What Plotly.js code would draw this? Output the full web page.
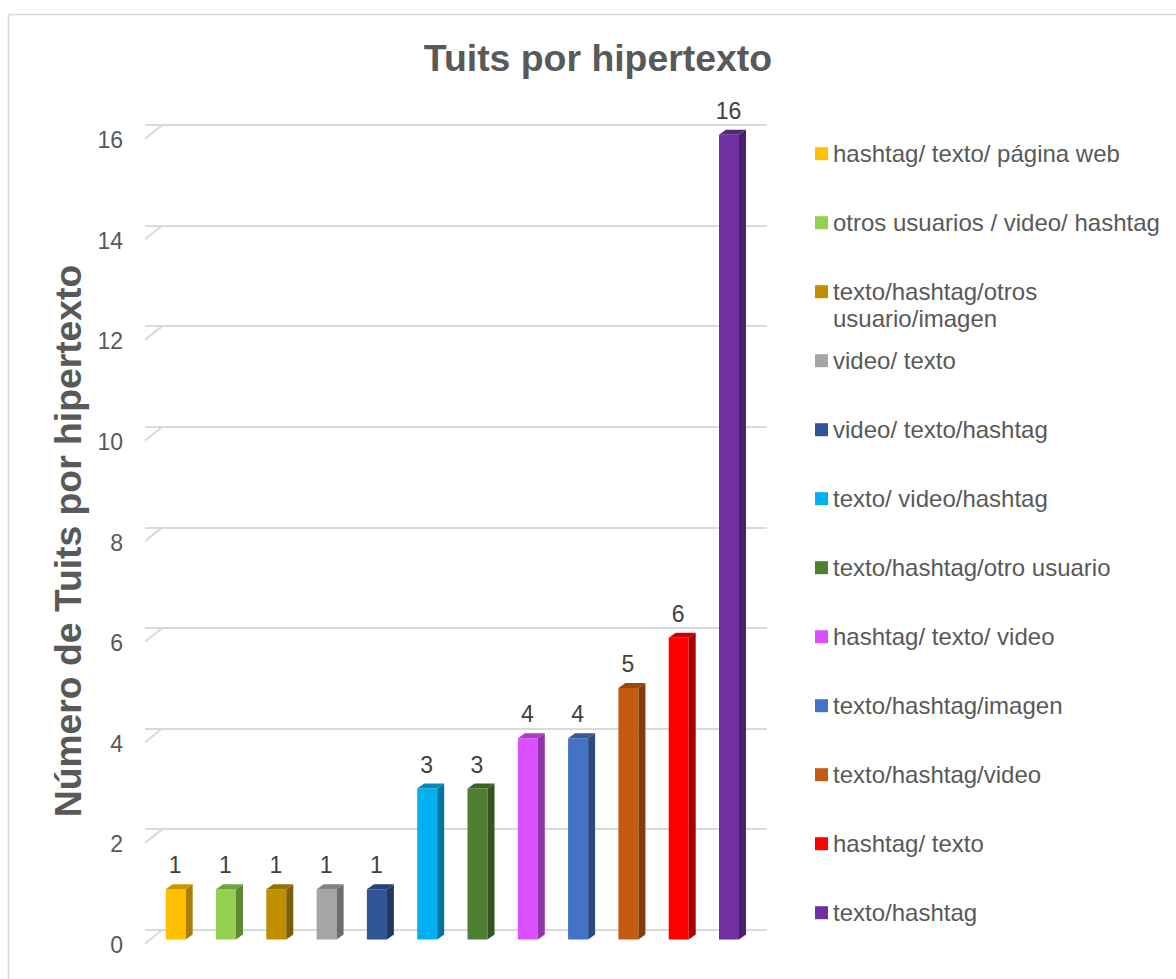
<!DOCTYPE html>
<html><head><meta charset="utf-8">
<script src="https://cdn.plot.ly/plotly-3.0.1.min.js"></script>
<style>html,body{margin:0;padding:0;background:#fff}#c{width:1176px;height:979px}</style>
</head><body><div id="c"></div>
<script>
const categories = ["hashtag/ texto/ página web","otros usuarios / video/ hashtag","texto/hashtag/otros<br>usuario/imagen","video/ texto","video/ texto/hashtag","texto/ video/hashtag","texto/hashtag/otro usuario","hashtag/ texto/ video","texto/hashtag/imagen","texto/hashtag/video","hashtag/ texto","texto/hashtag"];
const values = [1,1,1,1,1,3,3,4,4,5,6,16];
const colors = ["#FFC000","#92D050","#BF8F00","#A5A5A5","#2F5597","#00B0F0","#4F7F32","#DA4FFF","#4472C4","#C55A11","#FF0000","#7030A0"];
const tickValues = [0,2,4,6,8,10,12,14,16];

const W = 1176, H = 979;
const fx = p => p / W, fy = p => 1 - p / H;
// pixel geometry of the pseudo-3D frame
const pxUnitY = 50.3, pxUnitX = 50.3;
const plotTop = 122, plotBottom = 960, plotLeft = 145, plotRight = 767, wallLeft = 162;
const firstCenter = 175.7;
const yRange = zero => [(zero - plotBottom) / pxUnitY, (zero - plotTop) / pxUnitY];
const xOf = p => (p - firstCenter) / pxUnitX;
const barW = 20 / pxUnitX, depthX = 7 / pxUnitX, depthY = 5 / pxUnitY;
const shade = (hex, f) => {
  const n = parseInt(hex.slice(1), 16);
  return `rgb(${Math.round((n >> 16) * f)},${Math.round(((n >> 8) & 255) * f)},${Math.round((n & 255) * f)})`;
};
const idx = values.map((_, i) => i);

const traces = [];
idx.forEach(i => {
  const r = i + barW / 2, l = i - barW / 2, v = values[i];
  traces.push({type:'scatter',mode:'lines',fill:'toself',x:[r,r+depthX,r+depthX,r,r],y:[0,depthY,v+depthY,v,0],
    fillcolor:shade(colors[i],0.66),line:{width:0},hoverinfo:'skip',showlegend:false});
  traces.push({type:'scatter',mode:'lines',fill:'toself',x:[l,l+depthX,r+depthX,r,l],y:[v,v+depthY,v+depthY,v,v],
    fillcolor:shade(colors[i],0.78),line:{width:0},hoverinfo:'skip',showlegend:false});
});
traces.push({type:'bar',x:idx,y:values,width:barW,marker:{color:colors,line:{width:0}},
  hovertext:categories,hoverinfo:'text+y',showlegend:false});
traces.push({type:'scatter',mode:'text',x:idx.map(i => i - 0.01),y:values.map(v => v + 0.2),text:values.map(String),cliponaxis:false,
  textposition:'top center',textfont:{family:'Liberation Sans',size:23,color:'#404040'},hoverinfo:'skip',showlegend:false});
// axes carrying grid and tick labels
traces.push({type:'scatter',mode:'none',x:[0],y:[0],xaxis:'x2',yaxis:'y2',hoverinfo:'skip',showlegend:false});
traces.push({type:'scatter',mode:'none',x:[0],y:[0],xaxis:'x',yaxis:'y3',hoverinfo:'skip',showlegend:false});

const shapes = [], annotations = [];
const gridColor = '#d9d9d9';
tickValues.forEach(t => {
  shapes.push({type:'line',layer:'below',xref:'x',yref:'y3',x0:xOf(plotLeft),x1:xOf(wallLeft),y0:t+1.5/pxUnitY,y1:t+15/pxUnitY,
    line:{color:gridColor,width:2}});
});
const legendTop = 153.7, legendStep = 69, swatch = 13, legendLine = 27;
categories.forEach((c, i) => {
  const y = legendTop + i * legendStep;
  shapes.push({type:'rect',xref:'paper',yref:'paper',x0:fx(815),x1:fx(815+swatch),y0:fy(y-swatch/2),y1:fy(y+swatch/2),
    fillcolor:colors[i],line:{width:0}});
  c.split('<br>').forEach((line, k) => {
    annotations.push({xref:'paper',yref:'paper',x:fx(830.5),y:fy(y + k * legendLine),xanchor:'left',yanchor:'middle',align:'left',showarrow:false,
      text:line,font:{family:'Liberation Sans',size:24,color:'#595959'}});
  });
});
shapes.push({type:'rect',xref:'paper',yref:'paper',x0:fx(8.5),x1:fx(1200),y0:fy(14.5),y1:fy(1000),
  fillcolor:'rgba(0,0,0,0)',line:{color:'#d9d9d9',width:1.5},layer:'below'});

const layout = {
  width:W,height:H,margin:{l:0,r:0,t:0,b:0},paper_bgcolor:'#fff',plot_bgcolor:'rgba(0,0,0,0)',
  font:{family:'Liberation Sans'},showlegend:false,barmode:'overlay',
  title:{text:'<b>Tuits por hipertexto</b>',x:fx(598),xanchor:'center',y:fy(58),yanchor:'middle',
    font:{family:'Liberation Sans',size:37.4,color:'#595959'}},
  xaxis:{domain:[fx(plotLeft),fx(plotRight)],range:[xOf(plotLeft),xOf(plotRight)],visible:false,fixedrange:true},
  yaxis:{domain:[fy(plotBottom),fy(plotTop)],range:yRange(939.5),visible:false,fixedrange:true},
  xaxis2:{domain:[fx(wallLeft),fx(plotRight)],range:[xOf(wallLeft),xOf(plotRight)],visible:false,overlaying:'x',anchor:'y2',fixedrange:true},
  yaxis2:{domain:[fy(plotBottom),fy(plotTop)],range:yRange(930),overlaying:'y',anchor:'x2',side:'left',tickvals:tickValues,
    showgrid:true,gridcolor:gridColor,gridwidth:2,showticklabels:false,zeroline:false,showline:false,ticks:'',fixedrange:true},
  yaxis3:{domain:[fy(plotBottom),fy(plotTop)],range:yRange(945),overlaying:'y',anchor:'x',side:'left',tickvals:tickValues,
    ticktext:tickValues.map(String),showgrid:false,zeroline:false,showline:false,ticks:'',ticklabelstandoff:21,fixedrange:true,
    tickfont:{family:'Liberation Sans',size:23,color:'#595959'},
    title:{text:'<b>Número de Tuits por hipertexto</b>',standoff:4,font:{family:'Liberation Sans',size:37.3,color:'#595959'}}},
  shapes,annotations
};
Plotly.newPlot('c',traces,layout,{displayModeBar:false,responsive:false});
</script></body></html>
